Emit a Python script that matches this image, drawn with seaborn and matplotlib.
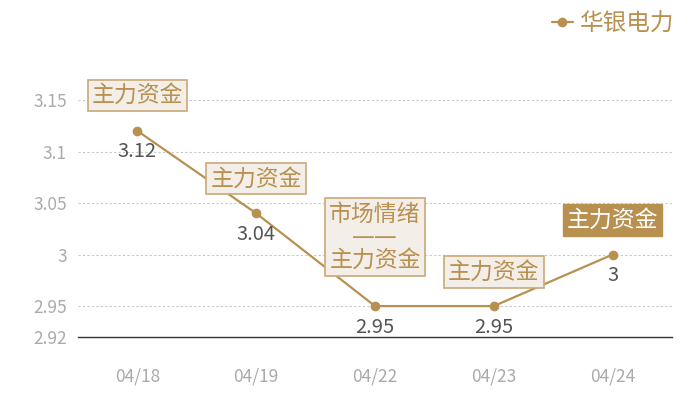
import matplotlib
matplotlib.use("Agg")
import matplotlib.pyplot as plt
import seaborn as sns
import pandas as pd

dates = ["04/18", "04/19", "04/22", "04/23", "04/24"]
values = [3.12, 3.04, 2.95, 2.95, 3.00]
value_labels = ["3.12", "3.04", "2.95", "2.95", "3"]
series_name = "华银电力"
notes = ["主力资金", "主力资金", "市场情绪\n——\n主力资金", "主力资金", "主力资金"]
note_offsets_px = [35.5, 34.5, 69, 34, 34.5]
note_highlight = [False, False, False, False, True]
yticks = [2.92, 2.95, 3.0, 3.05, 3.1, 3.15]
ytick_labels = ["2.92", "2.95", "3", "3.05", "3.1", "3.15"]

sns.set_theme(style="white")
plt.rcParams["font.family"] = ["Noto Sans CJK SC", "DejaVu Sans"]

GOLD = "#b8904f"
df = pd.DataFrame({"date": dates, "value": values, "series": series_name})

fig = plt.figure(figsize=(7, 4), dpi=100)
ax = fig.add_axes([78 / 700, 1 - 337 / 400, 594 / 700, 237 / 400])

sns.lineplot(data=df, x="date", y="value", hue="series", palette=[GOLD],
             marker="o", markersize=7, markeredgewidth=0, linewidth=1.6,
             sort=False, ax=ax)

ax.set_xlim(-0.5, len(dates) - 0.5)
ax.set_ylim(2.92, 3.15)
ax.set_yticks(yticks)
ax.set_yticklabels(ytick_labels)
for y in yticks[1:]:
    ax.axhline(y, color="#c8c8c8", linestyle=(0, (2, 2)), linewidth=0.8, zorder=0)
for s in ["top", "right", "left"]:
    ax.spines[s].set_visible(False)
ax.spines["bottom"].set_color("#333333")
ax.spines["bottom"].set_linewidth(1.0)
ax.tick_params(axis="both", length=0, colors="#aaaaaa", labelsize=12.5)
ax.tick_params(axis="y", pad=8)
ax.tick_params(axis="x", pad=22)
ax.set_xlabel("")
ax.set_ylabel("")

pt = 72 / 100.0
for i, (v, lab) in enumerate(zip(values, value_labels)):
    ax.annotate(lab, (i, v), xytext=(0, -21 * pt), textcoords="offset points",
                ha="center", va="center", fontsize=14.5, color="#555555",
                annotation_clip=False)
    if note_highlight[i]:
        bbox = dict(boxstyle="square,pad=0.18", fc=GOLD, ec=GOLD, lw=1)
        tc = "white"
    else:
        bbox = dict(boxstyle="square,pad=0.18", fc="#f3efe8", ec="#c9a978", lw=1.2)
        tc = GOLD
    fam = ["DejaVu Sans", "Noto Sans CJK SC"] if "\n" in notes[i] else ["Noto Sans CJK SC", "DejaVu Sans"]
    ax.annotate(notes[i], (i, v), xytext=(0, note_offsets_px[i] * pt),
                textcoords="offset points", ha="center", va="center",
                fontsize=16.5, color=tc, bbox=bbox, linespacing=1.0,
                family=fam, annotation_clip=False, zorder=5)

leg = ax.legend(loc="upper right", bbox_to_anchor=(684 / 700, 1 - 3 / 400),
                bbox_transform=fig.transFigure, frameon=False, fontsize=17,
                handlelength=0.9, handletextpad=0.3, borderaxespad=0)
for t in leg.get_texts():
    t.set_color(GOLD)

fig.savefig("out.png", dpi=100)
